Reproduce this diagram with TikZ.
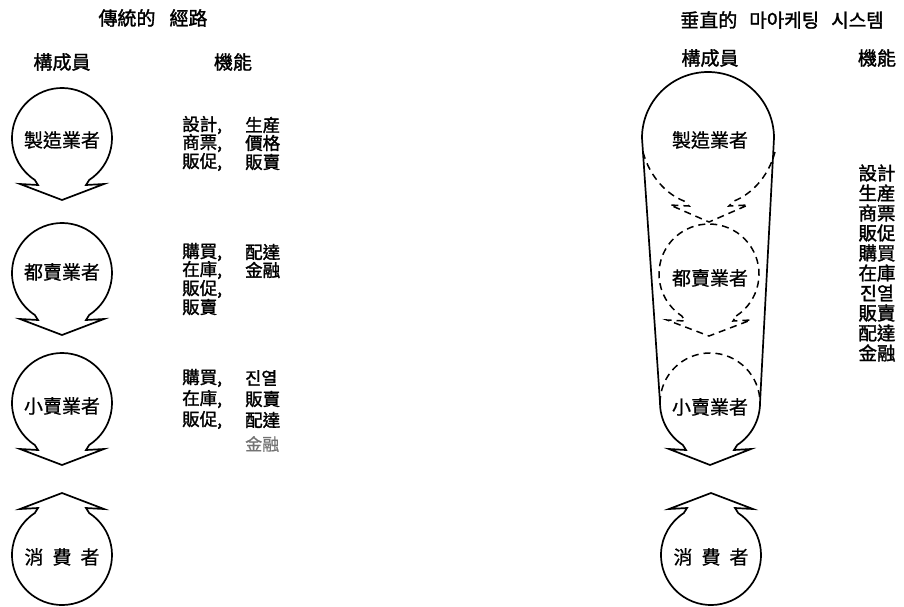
\documentclass[tikz,border=0pt]{standalone}
\usepackage{fontspec}
\setmainfont{Noto Sans CJK TC}
\newfontfamily\hvfont{Noto Sans CJK TC}[FakeBold=1.6]
\newfontfamily\mdfont{Noto Sans CJK TC}[FakeBold=0.8]
\newcommand\DownShape[3]{\draw[#3,shift={(#1,#2)}] (57:50) arc[start angle=57,end angle=-237,radius=50] -- (-24,47) -- (-42,46) -- (0,62) -- (42,46) -- (24,47) -- cycle;}
\newcommand\UpShape[3]{\draw[#3,shift={(#1,#2)},yscale=-1] (57:50) arc[start angle=57,end angle=-237,radius=50] -- (-24,47) -- (-42,46) -- (0,62) -- (42,46) -- (24,47) -- cycle;}
\begin{document}
\begin{tikzpicture}[x=1pt,y=-1pt,
  shp/.style={draw,line width=1.7pt,line join=miter},
  dsh/.style={draw,line width=1.5pt,line join=miter,dash pattern=on 7pt off 5pt},
  hd/.style={font=\hvfont\fontsize{19}{20}\selectfont,inner sep=0pt},
  lab/.style={font=\mdfont\fontsize{19}{20}\selectfont,inner sep=0pt},
  vl/.style={font=\hvfont\fontsize{18.5}{20}\selectfont,inner sep=0pt},
  fn/.style={font=\hvfont\fontsize{17.5}{18}\selectfont,inner sep=0pt,anchor=west},
  faint/.style={fn,font=\mdfont\fontsize{17}{18}\selectfont,text=black!55}]
\useasboundingbox (0,0) rectangle (904,606);

% ---------- left: traditional channel ----------
\node[hd] (ltitle) at (153,18) {傳統的\hspace{14pt}經路};
\node[hd] (lmem) at (62,62) {構成員};
\node[hd] (lfun) at (233,62) {機能};

\DownShape{62}{138}{shp}
\DownShape{62}{273}{shp}
\DownShape{62}{403}{shp}
\UpShape{62}{555}{shp}

\node[lab] (lm1) at (62,140) {製造業者};
\node[lab] (lm2) at (62,272) {都賣業者};
\node[lab] (lm3) at (62,406) {小賣業者};
\node[lab] (lm4) at (62,557) {消\hspace{9pt}費\hspace{9pt}者};

\node[fn] (a1) at (182,125) {設計,};  \node[fn] (b1) at (245,125) {生産};
\node[fn] (a2) at (182,143) {商票,};  \node[fn] (b2) at (245,143) {價格};
\node[fn] (a3) at (182,162) {販促,};  \node[fn] (b3) at (245,162) {販賣};

\node[fn] (c1) at (182,252) {購買,};  \node[fn] (d1) at (245,252) {配達};
\node[fn] (c2) at (182,270) {在庫,};  \node[fn] (d2) at (245,270) {金融};
\node[fn] (c3) at (182,289) {販促,};
\node[fn] (c4) at (182,307) {販賣};

\node[fn] (e1) at (182,378) {購買,};  \node[fn] (f1) at (245,378) {진열};
\node[fn] (e2) at (182,399) {在庫,};  \node[fn] (f2) at (245,399) {販賣};
\node[fn] (e3) at (182,420) {販促,};  \node[fn] (f3) at (245,420) {配達};
\node[faint] (f4) at (245,444) {金融};

% ---------- right: vertical marketing system ----------
\node[hd] (rtitle) at (782,20) {垂直的\hspace{12pt}마아케팅\hspace{12pt}시스템};
\node[hd] (rmem) at (710,58) {構成員};
\node[hd] (rfun) at (877,58) {機能};

% solid outline
\draw[shp] (642,138) arc[start angle=180,end angle=360,radius=66]
  -- (760,403) arc[start angle=0,end angle=57,radius=50]
  -- (734,450) -- (751,449) -- (710,465) -- (669,449) -- (686,450)
  -- (682.8,444.9) arc[start angle=123,end angle=180,radius=50] -- cycle;

% dashed arrow bottom of the manufacturer circle
\draw[dsh] (643,152) .. controls (650,178) and (668,195) .. (684,201)
  -- (689,206) -- (670,205) -- (709,222) -- (748,205) -- (729,206)
  -- (734,201) .. controls (750,195) and (768,178) .. (775,152);
% dashed wholesaler circle
\DownShape{709}{274}{dsh}
% dashed top of retailer circle
\draw[dsh] (660,403) arc[start angle=180,end angle=360,radius=50];

\UpShape{711}{555}{shp}

\node[lab] (rm1) at (710,140) {製造業者};
\node[lab] (rm2) at (710,278) {都賣業者};
\node[lab] (rm3) at (710,407) {小賣業者};
\node[lab] (rm4) at (711,557) {消\hspace{9pt}費\hspace{9pt}者};

\foreach \t [count=\i] in {設計,生産,商票,販促,購買,在庫,진열,販賣,配達,金融}
  \node[vl] (fl\i) at (877,{153+20*\i}) {\t};
\end{tikzpicture}
\end{document}
